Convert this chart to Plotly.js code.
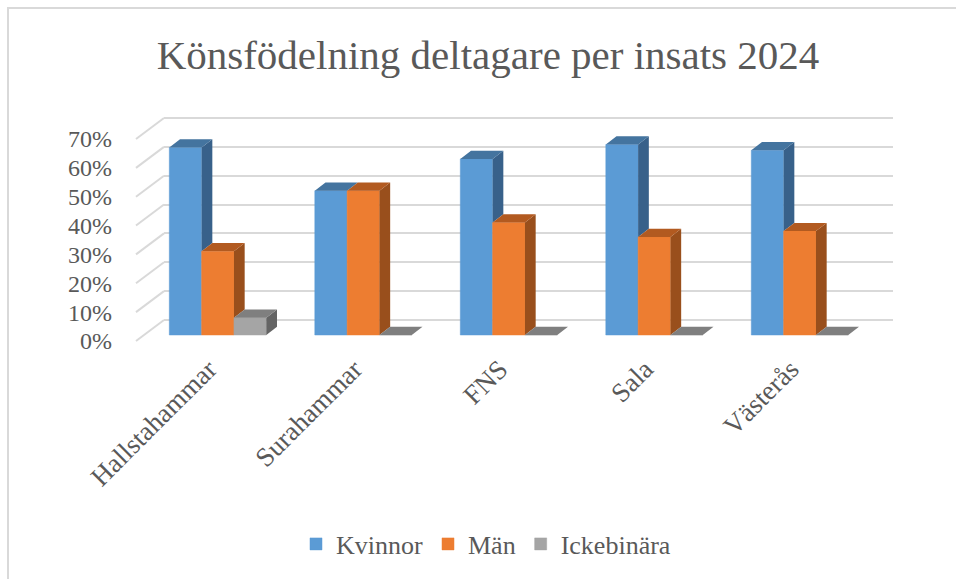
<!DOCTYPE html>
<html>
<head>
<meta charset="utf-8">
<script src="https://cdn.plot.ly/plotly-3.0.1.min.js"></script>
<style>html,body{margin:0;padding:0;background:#fff}#chart{width:956px;height:579px}</style>
</head>
<body>
<div id="chart"></div>
<script>
var categories = ['Hallstahammar', 'Surahammar', 'FNS', 'Sala', 'Västerås'];
var kvinnor = [65, 50, 61, 66, 64];
var man = [29, 50, 39, 34, 36];
var ickebinara = [6, 0, 0, 0, 0];
var yTicks = [0, 10, 20, 30, 40, 50, 60, 70];
var yTickLabels = ['0%', '10%', '20%', '30%', '40%', '50%', '60%', '70%'];

var W = 956, H = 579;
var FONT = '"Liberation Serif", serif';
var TEXT = '#595959', GRID = '#d9d9d9';

// front plane of the bars, in pixels
var pxPerCat = 145.5, pxPerPct = 2.886, x0px = 217.8, y0px = 335;
var plotL = 120, plotR = 910, plotT = 100, plotB = 345;
// back wall, in pixels; 0% at backB, padded so the end gridlines are kept
var backL = 164, backR = 892.7, backB = 320, pad = 3;
var backPadT = backB - 70 * pxPerPct - pad, backPadB = backB + pad;

var xIdx = categories.map(function (c, i) { return i; });
var barW = (1 - 1 / 3) / 3;
var dx = 10.7 / pxPerCat, dy = 8.2 / pxPerPct;

var series = [
  {name: 'Kvinnor', values: kvinnor, front: '#5b9bd5', top: '#44749f', side: '#38618a'},
  {name: 'Män', values: man, front: '#ed7d31', top: '#b25a20', side: '#994f1c'},
  {name: 'Ickebinära', values: ickebinara, front: '#a5a5a5', top: '#7f7f7f', side: '#646464'}
];

var traces = [{
  type: 'scatter', mode: 'lines', x: [null], y: [null],
  xaxis: 'x', yaxis: 'y', showlegend: false, hoverinfo: 'skip'
}];

series.forEach(function (s) {
  traces.push({
    type: 'bar', name: s.name, x: xIdx, y: s.values,
    xaxis: 'x2', yaxis: 'y2',
    marker: {color: s.front, line: {width: 0.5, color: s.front}},
    hovertemplate: '%{y}%<extra>' + s.name + '</extra>'
  });
});

// left wall diagonals, one per tick
var wallX = [], wallY = [];
var wallFrontX = (136 - x0px) / pxPerCat, wallBackX = (backL - x0px) / pxPerCat;
var wallFrontD = -(341 - y0px) / pxPerPct, wallBackD = (y0px - backB) / pxPerPct;
yTicks.forEach(function (v) {
  wallX.push(wallFrontX, wallBackX, null);
  wallY.push(v + wallFrontD, v + wallBackD, null);
});
traces.push({
  type: 'scatter', mode: 'lines', x: wallX, y: wallY, xaxis: 'x2', yaxis: 'y2',
  line: {color: GRID, width: 2}, showlegend: false, hoverinfo: 'skip'
});

// 3D side and top faces, drawn from the values
series.forEach(function (s, k) {
  var sideX = [], sideY = [], topX = [], topY = [];
  var next = series[k + 1];
  s.values.forEach(function (v, i) {
    var l = i - 1.5 * barW + k * barW, r = l + barW;
    var floor = next ? next.values[i] : 0;
    if (floor < v) {
      sideX.push(r, r + dx, r + dx, r, r, null);
      sideY.push(v, v + dy, floor + dy, floor, v, null);
    }
    topX.push(l, r, r + dx, l + dx, l, null);
    topY.push(v, v, v + dy, v + dy, v, null);
  });
  traces.push({type: 'scatter', mode: 'lines', x: sideX, y: sideY, xaxis: 'x2', yaxis: 'y2', fill: 'toself',
    fillcolor: s.side, line: {width: 0, color: s.side}, showlegend: false, hoverinfo: 'skip'});
  traces.push({type: 'scatter', mode: 'lines', x: topX, y: topY, xaxis: 'x2', yaxis: 'y2', fill: 'toself',
    fillcolor: s.top, line: {width: 0, color: s.top}, showlegend: false, hoverinfo: 'skip'});
});

var layout = {
  width: W, height: H,
  paper_bgcolor: '#ffffff', plot_bgcolor: 'rgba(0,0,0,0)',
  margin: {l: 0, r: 0, t: 0, b: 0},
  showlegend: true,
  barmode: 'group', bargap: 1 / 3, bargroupgap: 0,
  title: {
    text: 'Könsfödelning deltagare per insats 2024',
    x: 488 / W, xanchor: 'center', y: 1 - 55 / H, yanchor: 'middle',
    font: {family: FONT, size: 41, color: TEXT}
  },
  // back wall: gridlines and the percent labels
  xaxis: {domain: [backL / W, backR / W], range: [0, 1], visible: false, fixedrange: true},
  yaxis: {
    domain: [1 - backPadB / H, 1 - backPadT / H],
    range: [-pad / pxPerPct, 70 + pad / pxPerPct], anchor: 'x',
    tickvals: yTicks, ticktext: yTickLabels, showgrid: true, gridcolor: GRID, gridwidth: 2,
    zeroline: false, showline: false, ticks: '',
    ticklabelstandoff: 51, ticklabelshift: 21,
    tickfont: {family: FONT, size: 24, color: TEXT}, fixedrange: true
  },
  // front plane: the bars and the category labels
  xaxis2: {
    domain: [plotL / W, plotR / W],
    range: [(plotL - x0px) / pxPerCat, (plotR - x0px) / pxPerCat],
    anchor: 'y2', tickvals: xIdx, ticktext: categories, tickangle: -45,
    showgrid: false, zeroline: false, showline: false, ticks: '',
    ticklabelstandoff: 2, ticklabelshift: -9,
    tickfont: {family: FONT, size: 27, color: TEXT}, fixedrange: true
  },
  yaxis2: {
    domain: [1 - plotB / H, 1 - plotT / H],
    range: [(y0px - plotB) / pxPerPct, (y0px - plotT) / pxPerPct],
    anchor: 'x2', visible: false, fixedrange: true
  },
  legend: {
    orientation: 'h', x: 486 / W, xanchor: 'center', y: 1 - 544 / H, yanchor: 'middle',
    font: {family: FONT, size: 26, color: TEXT}, bgcolor: 'rgba(0,0,0,0)'
  },
  shapes: [
    {type: 'line', xref: 'paper', yref: 'paper', x0: 8 / W, x1: 8 / W, y0: 0, y1: 1 - 8 / H, line: {color: GRID, width: 2}},
    {type: 'line', xref: 'paper', yref: 'paper', x0: 7 / W, x1: 1, y0: 1 - 8 / H, y1: 1 - 8 / H, line: {color: GRID, width: 2}}
  ]
};

Plotly.newPlot('chart', traces, layout, {displayModeBar: false, staticPlot: true});
</script>
</body>
</html>
